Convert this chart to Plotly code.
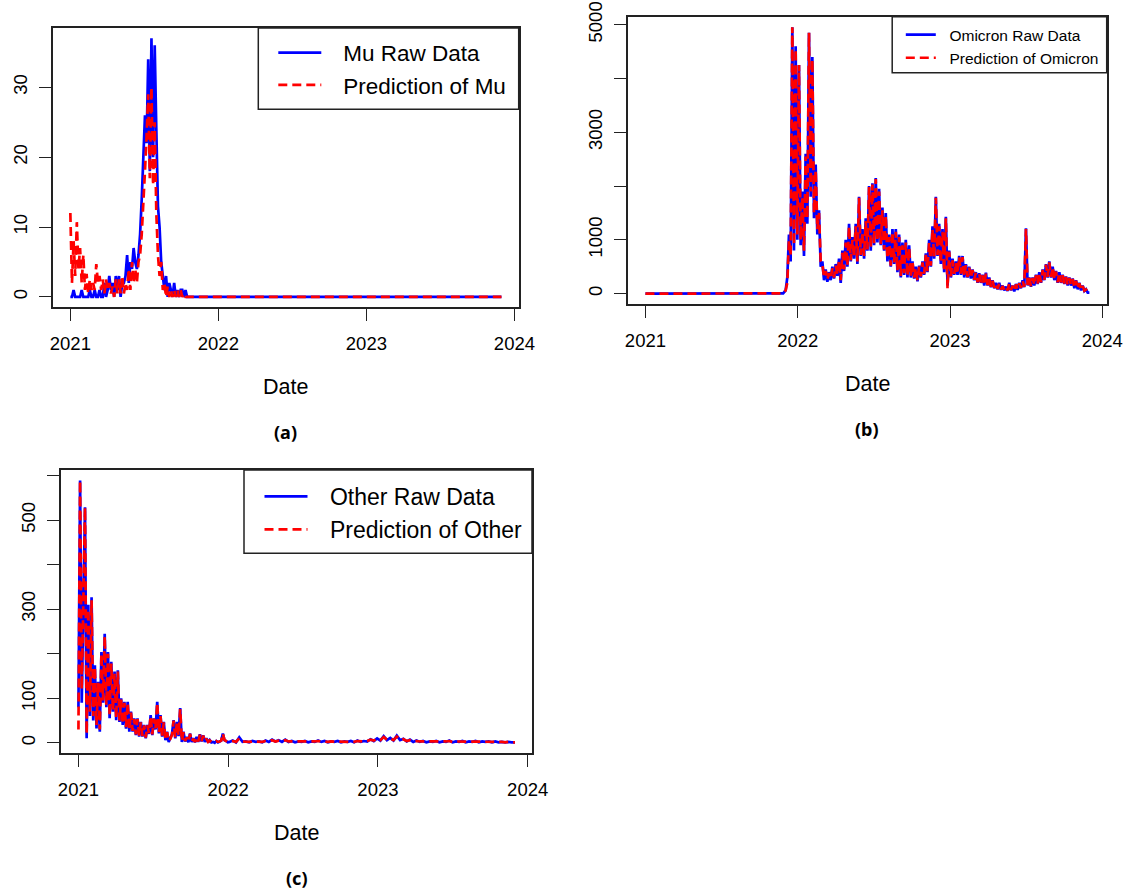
import pandas as pd
import plotly.graph_objects as go

W, H = 1137, 890
FONT = "Liberation Sans, Arial, sans-serif"
CAP_FONT = "Noto Sans, DejaVu Sans, sans-serif"
BLUE = "#0000FF"
RED = "#FF0000"

# ---------------- data ----------------
year_labels = ["2021", "2022", "2023", "2024"]
series_start = "2021-01-01"
series_end = "2023-11-30"

# (a) Mu: 4-day steps from 2021-01-01, then flat zero to the end
mu_raw = [0, 0, 1, 0, 0, 0, 0, 1, 0, 0,
          0, 0, 1, 0, 0, 1, 0, 0, 1, 0,
          0, 2, 0, 1, 3, 1, 2, 0, 3, 1,
          3, 0, 2, 2, 3, 6, 2, 5, 4, 7,
          5, 4, 6, 9, 14, 19, 26, 22, 34, 18,
          37, 20, 36, 24, 13, 10, 5, 3, 1, 3,
          0, 2, 1, 0, 2, 0, 1, 0, 1, 1,
          0, 1, 0, 0]
mu_pred = [12, 2, 8, 3, 10.7, 4, 7, 2, 6, 1,
           3.3, 0.5, 2.5, 1, 2, 1, 4.7, 2, 3, 1,
           2.5, 0.5, 2.5, 1, 2, 0.5, 1.5, 0, 2.5, 0.5,
           2.5, 0.5, 3, 0.5, 2, 1, 4, 1, 5, 2,
           4, 2, 5, 6, 9, 13, 18, 23, 29, 17,
           30, 16, 25, 12, 6, 3, 5, 1, 2, 0,
           1.5, 0, 1, 0, 1, 0, 1, 0, 1, 0,
           0.5, 0, 0, 0]
mu_tail_dates = ["2023-11-30"]
mu_tail_vals = [0]

# (b) Omicron: flat start, then 4-day steps from 2021-12-07
omi_head_dates = ["2021-01-01", "2021-11-27", "2021-12-03"]
omi_head_vals = [0, 5, 60]
omi_start = "2021-12-07"
omi_raw = [300, 1100, 600, 4950, 800, 4600, 1000, 4250, 900, 1900,
           700, 2600, 1300, 4850, 1800, 4400, 1400, 2400, 1100, 1550,
           500, 600, 250, 450, 220, 400, 250, 500, 280, 550,
           330, 650, 200, 800, 420, 1000, 500, 1300, 600, 1050,
           650, 1300, 550, 1800, 700, 1200, 650, 1400, 800, 2000,
           800, 2050, 900, 2150, 950, 1950, 900, 1600, 800, 1500,
           600, 1100, 500, 1200, 550, 1200, 400, 1100, 300, 950,
           350, 1000, 300, 900, 300, 600, 280, 500, 230, 520,
           300, 600, 350, 750, 400, 1000, 500, 1250, 650, 1800,
           700, 1300, 550, 1200, 400, 1430, 150, 800, 300, 650,
           350, 600, 350, 700, 350, 700, 300, 550, 300, 500,
           280, 450, 250, 400, 200, 380, 200, 350, 150, 390,
           150, 300, 120, 250, 100, 200, 80, 200, 70, 150,
           60, 130, 50, 200, 60, 150, 40, 180, 70, 200,
           100, 250, 120, 1215, 150, 300, 130, 300, 150, 350,
           180, 400, 200, 450, 250, 550, 300, 600, 300, 500,
           250, 420, 200, 400, 200, 350, 180, 320, 150, 300,
           150, 280, 100, 250, 80, 200, 60, 150, 50, 80,
           20, 20]
omi_pred = [200, 1000, 700, 4950, 900, 4550, 1100, 4250, 1000, 1800,
            800, 2550, 1400, 4850, 1900, 4350, 1500, 2300, 1200, 1500,
            600, 550, 300, 420, 260, 380, 280, 470, 300, 520,
            350, 620, 250, 760, 450, 950, 520, 1250, 620, 1000,
            680, 1250, 600, 1780, 720, 1150, 700, 1350, 820, 1980,
            850, 2030, 920, 2130, 980, 1900, 920, 1550, 820, 1450,
            650, 1050, 520, 1150, 580, 1150, 430, 1050, 330, 900,
            380, 950, 330, 850, 320, 580, 300, 480, 250, 500,
            320, 580, 370, 720, 420, 950, 520, 1200, 680, 1780,
            720, 1250, 580, 1150, 420, 1400, 100, 780, 320, 620,
            370, 580, 370, 680, 370, 680, 320, 530, 310, 480,
            290, 440, 260, 390, 210, 370, 210, 340, 160, 370,
            160, 290, 130, 240, 110, 190, 90, 190, 80, 140,
            70, 125, 60, 190, 70, 145, 50, 170, 80, 190,
            110, 240, 130, 1200, 160, 290, 140, 290, 160, 340,
            190, 390, 210, 440, 260, 540, 310, 580, 310, 490,
            260, 410, 210, 390, 210, 340, 190, 310, 160, 290,
            160, 270, 110, 240, 90, 190, 70, 140, 55, 75,
            25, 20]

# (c) Other: 4-day steps through 2021, then 8-day steps from 2022-01-04
oth_2021_start = "2021-01-01"
oth_raw_2021 = [80, 589, 90, 330, 529, 10, 310, 60, 327, 50,
                174, 32, 137, 25, 204, 90, 245, 80, 204, 55,
                182, 70, 160, 51, 163, 47, 100, 40, 92, 32,
                92, 25, 70, 25, 55, 17, 55, 14, 47, 14,
                40, 10, 40, 20, 62, 17, 55, 30, 92, 21,
                62, 14, 47, 6, 25, 2, 10, 20, 51, 10,
                47, 15, 78, 2, 25, 3, 13, 1, 21, 2,
                10, 1, 13, 2, 19, 3, 17, 2, 10, 1,
                6, 1, 2, 0, 4, 1, 3, 5, 21, 6,
                4, 1]
oth_pred_2021 = [30, 589, 120, 310, 529, 20, 300, 70, 320, 60,
                 170, 40, 135, 30, 200, 95, 240, 85, 200, 60,
                 178, 72, 155, 55, 160, 50, 97, 42, 90, 35,
                 90, 28, 68, 27, 53, 19, 53, 16, 46, 15,
                 39, 12, 39, 22, 60, 19, 54, 32, 90, 23,
                 60, 16, 46, 8, 24, 4, 9, 18, 50, 12,
                 46, 16, 76, 4, 24, 4, 12, 2, 20, 3,
                 9, 2, 12, 3, 18, 4, 16, 3, 9, 2,
                 5, 2, 2, 1, 4, 2, 3, 5, 21, 6,
                 4, 2]
oth_later_start = "2022-01-04"
oth_raw_later = [2, 5, 1, 12, 2, 3, 1, 4, 2, 3,
                 1, 5, 2, 7, 3, 6, 2, 7, 2, 4,
                 1, 3, 2, 4, 1, 3, 2, 5, 2, 4,
                 1, 3, 2, 4, 1, 3, 2, 4, 1, 5,
                 2, 4, 3, 8, 4, 10, 5, 15, 6, 11,
                 5, 16, 6, 9, 3, 7, 2, 5, 2, 4,
                 1, 3, 2, 4, 1, 3, 2, 5, 1, 3,
                 2, 4, 1, 3, 2, 4, 1, 3, 2, 3,
                 1, 3, 1, 2, 1, 2, 1, 1]
oth_pred_later = [3, 4, 2, 10, 3, 2, 2, 3, 3, 2,
                  2, 4, 3, 6, 3, 5, 3, 6, 3, 3,
                  2, 3, 3, 3, 2, 3, 3, 4, 3, 3,
                  2, 3, 3, 3, 2, 3, 3, 3, 2, 4,
                  3, 3, 4, 7, 5, 9, 6, 13, 7, 10,
                  6, 14, 7, 8, 4, 6, 3, 4, 3, 3,
                  2, 3, 3, 3, 2, 3, 3, 4, 2, 3,
                  3, 3, 2, 3, 3, 3, 2, 3, 3, 2,
                  2, 2, 2, 2, 1, 2, 1, 1]

# y-axis ticks per panel
mu_yticks = [0, 10, 20, 30]
mu_ytext = ["0", "10", "20", "30"]
omi_yticks = [0, 1000, 2000, 3000, 4000, 5000]
omi_ytext = ["0", "1000", "", "3000", "", "5000"]
oth_yticks = [0, 100, 200, 300, 400, 500, 600]
oth_ytext = ["0", "100", "", "300", "", "500", ""]

legend_names = [("Mu Raw Data", "Prediction of Mu"),
                ("Omicron Raw Data", "Prediction of Omicron"),
                ("Other Raw Data", "Prediction of Other")]
captions = ["(a)", "(b)", "(c)"]

# ---------------- build date axes ----------------
def steps(start, n, freq):
    return list(pd.date_range(start, periods=n, freq=freq))

mu_x = steps(series_start, len(mu_raw), "4D") + [pd.Timestamp(d) for d in mu_tail_dates]
mu_y_raw = mu_raw + mu_tail_vals
mu_y_pred = mu_pred + mu_tail_vals

omi_x = [pd.Timestamp(d) for d in omi_head_dates] + steps(omi_start, len(omi_raw), "4D")
omi_y_raw = omi_head_vals + omi_raw
omi_y_pred = omi_head_vals + omi_pred

oth_x = steps(oth_2021_start, len(oth_raw_2021), "4D") + steps(oth_later_start, len(oth_raw_later), "8D")
oth_y_raw = oth_raw_2021 + oth_raw_later
oth_y_pred = oth_pred_2021 + oth_pred_later

t0 = pd.Timestamp(series_start)
t1 = pd.Timestamp(series_end)
pad = (t1 - t0) * 0.04
x_range = [t0 - pad, t1 + pad]
x_tickvals = [f"{y}-01-01" for y in year_labels]

def yr(vals):
    lo, hi = 0, max(vals)
    p = (hi - lo) * 0.04
    return [lo - p, hi + p]

def px(x):
    return x / W

def py(y):
    return 1 - y / H

# panel boxes in window pixels: (left, top, right, bottom)
boxes = [(53.1, 28.0, 518.7, 307.3),
         (627.7, 16.7, 1106.7, 304.3),
         (61.0, 470.0, 532.0, 753.3)]
legend_frames = [(258.3, 28.0, 518.7, 109.3), (892.2, 16.7, 1106.7, 72.7), (244.0, 470.0, 532.0, 553.3)]
legend_font = [22.5, 15.5, 23]
legend_key_len = [43, 30, 43]
legend_key_x = [278.3, 905.8, 264.5]
legend_top = [31.5, 18.0, 475.0]
legend_text_pad = ["\u00a0\u00a0\u2009", "\u00a0\u00a0", "\u00a0\u00a0\u2009"]

panels = [
    (mu_x, mu_y_raw, mu_y_pred, mu_yticks, mu_ytext, yr(mu_y_raw)),
    (omi_x, omi_y_raw, omi_y_pred, omi_yticks, omi_ytext, yr(omi_y_raw)),
    (oth_x, oth_y_raw, oth_y_pred, oth_yticks, oth_ytext, yr(oth_y_raw)),
]

fig = go.Figure()
annotations = []
shapes = []
layout = {}

for i, (xs, yraw, ypred, yt, ytt, yrange) in enumerate(panels):
    n = "" if i == 0 else str(i + 1)
    lg = "legend" if i == 0 else f"legend{i + 1}"
    sp = legend_text_pad[i]
    fig.add_trace(go.Scatter(x=xs, y=yraw, mode="lines", name=sp + legend_names[i][0],
                             line=dict(color=BLUE, width=2.7), xaxis="x" + n, yaxis="y" + n,
                             legend=lg))
    fig.add_trace(go.Scatter(x=xs, y=ypred, mode="lines", name=sp + legend_names[i][1],
                             line=dict(color=RED, width=2.7, dash="9px,5px"),
                             xaxis="x" + n, yaxis="y" + n, legend=lg))
    l, t, r, b = boxes[i]
    layout["xaxis" + n] = dict(
        domain=[px(l), px(r)], anchor="y" + n, type="date", range=x_range,
        tickmode="array", tickvals=x_tickvals, ticktext=year_labels,
        ticks="outside", ticklen=12, tickwidth=1.2, tickcolor="#222",
        showline=True, mirror=True, linecolor="#222", linewidth=1.5,
        showgrid=False, zeroline=False, ticklabelstandoff=7, automargin=False,
        ticklabeloverflow="allow",
        tickfont=dict(family=FONT, size=18.5, color="black"))
    layout["yaxis" + n] = dict(
        domain=[py(b), py(t)], anchor="x" + n, range=yrange,
        tickmode="array", tickvals=yt, ticktext=ytt, tickangle=-90,
        ticks="outside", ticklen=12, tickwidth=1.2, tickcolor="#222",
        showline=True, mirror=True, linecolor="#222", linewidth=1.5,
        showgrid=False, zeroline=False, ticklabelstandoff=5, automargin=False,
        ticklabeloverflow="allow",
        tickfont=dict(family=FONT, size=18.5, color="black"))
    cx = (l + r) / 2
    annotations.append(dict(text="Date", x=px(cx), y=py(b + 80), xref="paper", yref="paper",
                            showarrow=False, xanchor="center", yanchor="middle",
                            font=dict(family=FONT, size=21.5, color="black")))
    annotations.append(dict(text=f"<b>{captions[i]}</b>", x=px(cx), y=py(b + 125),
                            xref="paper", yref="paper", showarrow=False,
                            xanchor="center", yanchor="middle",
                            font=dict(family=CAP_FONT, size=18, color="black")))
    ll, lt, lr, lb = legend_frames[i]
    shapes.append(dict(type="rect", xref="paper", yref="paper",
                       x0=px(ll), x1=px(lr), y0=py(lb), y1=py(lt),
                       line=dict(color="#222", width=1.5), fillcolor="rgba(0,0,0,0)"))
    layout[lg] = dict(x=px(legend_key_x[i] - 5), y=py(legend_top[i]),
                      xanchor="left", yanchor="top", bgcolor="rgba(0,0,0,0)",
                      borderwidth=0, itemwidth=legend_key_len[i], tracegroupgap=0,
                      font=dict(family=FONT, size=legend_font[i], color="black"))

fig.update_layout(
    width=W, height=H, margin=dict(l=0, r=0, t=0, b=0, autoexpand=False),
    paper_bgcolor="white", plot_bgcolor="white", hovermode=False,
    showlegend=True, annotations=annotations, shapes=shapes, **layout)

# remove the browser's default 8px page margin so the figure fills the window
fig.write_html("out.html", config={"displayModeBar": False, "staticPlot": False},
               post_script="document.body.style.margin='0';document.body.style.overflow='hidden';")
